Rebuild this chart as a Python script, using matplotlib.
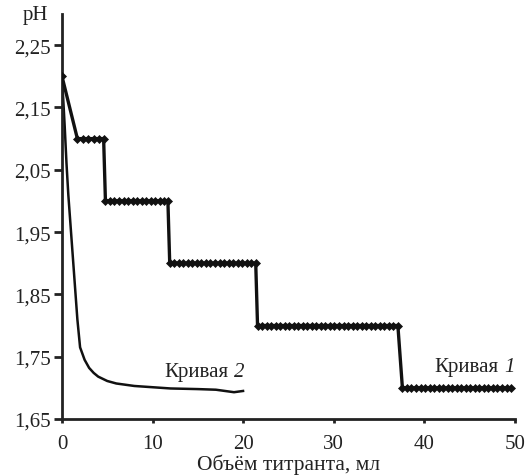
import numpy as np
import matplotlib
matplotlib.use("Agg")
import matplotlib.pyplot as plt

plt.rcParams["font.family"] = ["Liberation Serif", "DejaVu Serif"]

# Curve 1 (stepwise titration), ml / pH
x1 = [0.0,
      1.7, 2.3, 2.9, 3.5, 4.1, 4.6,
      4.8, 5.3, 5.8, 6.3, 6.8, 7.3, 7.8, 8.3, 8.8, 9.3, 9.8, 10.3, 10.8, 11.3, 11.7,
      11.9, 12.4, 12.9, 13.4, 13.9, 14.4, 14.9, 15.4, 15.9, 16.4, 16.9, 17.4, 17.9,
      18.4, 18.9, 19.4, 19.9, 20.4, 20.9, 21.4,
      21.6, 22.1, 22.6, 23.1, 23.6, 24.1, 24.6, 25.1, 25.6, 26.1, 26.6, 27.1, 27.6,
      28.1, 28.6, 29.1, 29.6, 30.1, 30.6, 31.1, 31.6, 32.1, 32.6, 33.1, 33.6, 34.1,
      34.6, 35.1, 35.6, 36.1, 36.6, 37.1,
      37.6, 38.1, 38.6, 39.1, 39.6, 40.1, 40.6, 41.1, 41.6, 42.1, 42.6, 43.1, 43.6,
      44.1, 44.6, 45.1, 45.6, 46.1, 46.6, 47.1, 47.6, 48.1, 48.6, 49.1, 49.6]
y1 = [2.20,
      2.10, 2.10, 2.10, 2.10, 2.10, 2.10,
      2.00, 2.00, 2.00, 2.00, 2.00, 2.00, 2.00, 2.00, 2.00, 2.00, 2.00, 2.00, 2.00, 2.00, 2.00,
      1.90, 1.90, 1.90, 1.90, 1.90, 1.90, 1.90, 1.90, 1.90, 1.90, 1.90, 1.90, 1.90,
      1.90, 1.90, 1.90, 1.90, 1.90, 1.90, 1.90,
      1.80, 1.80, 1.80, 1.80, 1.80, 1.80, 1.80, 1.80, 1.80, 1.80, 1.80, 1.80, 1.80,
      1.80, 1.80, 1.80, 1.80, 1.80, 1.80, 1.80, 1.80, 1.80, 1.80, 1.80, 1.80, 1.80,
      1.80, 1.80, 1.80, 1.80, 1.80, 1.80,
      1.70, 1.70, 1.70, 1.70, 1.70, 1.70, 1.70, 1.70, 1.70, 1.70, 1.70, 1.70, 1.70,
      1.70, 1.70, 1.70, 1.70, 1.70, 1.70, 1.70, 1.70, 1.70, 1.70, 1.70, 1.70]

# Curve 2 (smooth titration)
x2 = [0.0, 0.3, 0.5, 0.7, 0.9, 1.2, 1.5, 1.7, 2.0, 2.5, 3.0, 3.5, 4.0, 5.0, 6.0,
      8.0, 10.0, 12.0, 15.0, 17.0, 19.0, 20.0]
y2 = [2.20, 2.12, 2.06, 2.01, 1.97, 1.91, 1.85, 1.81, 1.765, 1.745, 1.732, 1.724,
      1.718, 1.711, 1.707, 1.703, 1.701, 1.699, 1.698, 1.697, 1.693, 1.695]

yticks = [1.65, 1.75, 1.85, 1.95, 2.05, 2.15, 2.25]
ytick_labels = ["1,65", "1,75", "1,85", "1,95", "2,05", "2,15", "2,25"]
xticks = [0, 10, 20, 30, 40, 50]

# curve labels: (x, y, number)
labels = [(20.2, 1.727, "2"), (50.0, 1.735, "1")]

fig = plt.figure(figsize=(5.27, 4.77), dpi=100)
ax = fig.add_axes([0.1176, 0.1195, 0.859, 0.849])

ax.plot(x2, y2, color="#111111", linewidth=1.8, zorder=2)
ax.plot(x1, y1, color="#111111", linewidth=2.4, marker="D", markersize=4.5,
        markeredgewidth=0.5, zorder=3)

ax.set_xlim(0, 50)
ax.set_ylim(1.65, 2.3)
ax.set_xticks(xticks)
ax.set_yticks(yticks)
ax.set_yticklabels(ytick_labels)

for s in ["top", "right"]:
    ax.spines[s].set_visible(False)
for s in ["left", "bottom"]:
    ax.spines[s].set_linewidth(2.0)
    ax.spines[s].set_color("#222222")

ax.tick_params(axis="y", direction="out", length=6, width=2, labelsize=15,
               colors="#222222", pad=2)
ax.tick_params(axis="x", direction="out", length=3, width=2, labelsize=15,
               colors="#222222", pad=8)

ax.set_xlabel("Объём титранта, мл", fontsize=15.5, color="#222222", labelpad=0)
ax.text(-0.03, 1.0, "pH", transform=ax.transAxes, fontsize=15, color="#222222",
        ha="right", va="center")

for lx, ly, num in labels:
    ax.annotate(num, (lx, ly), fontsize=15, color="#222222", style="italic",
                ha="right", va="center")
    ax.annotate("Кривая", (lx, ly), xytext=(-12, 0), textcoords="offset points",
                fontsize=15, color="#222222", ha="right", va="center")

fig.savefig("out.png", dpi=100, facecolor="white")
